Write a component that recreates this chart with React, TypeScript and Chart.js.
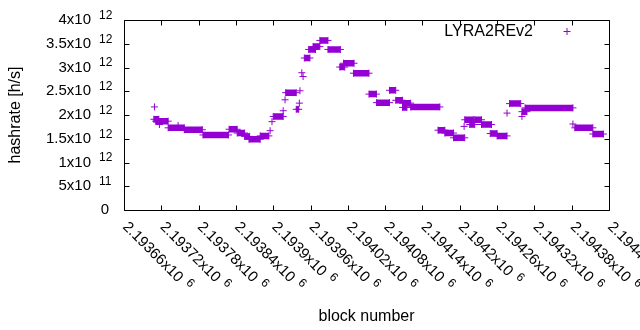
import React, { useEffect, useRef } from "react";
import { Chart, registerables } from "chart.js";

Chart.register(...registerables);

// ---- data (block ranges with a constant network hashrate) ----
const segmentStartBlocks = [
  2193709, 2193708, 2193711, 2193717, 2193731, 2193747, 2193757, 2193787, 2193829, 2193842,
  2193854, 2193861, 2193879, 2193895, 2193898, 2193900, 2193916, 2193919, 2193920, 2193937,
  2193942, 2193943, 2193946, 2193948, 2193950, 2193957, 2193964, 2193975, 2193988, 2194007,
  2194013, 2194029, 2194054, 2194066, 2194087, 2194097, 2194108, 2194108, 2194121, 2194165,
  2194176, 2194190, 2194207, 2194208, 2194216, 2194224, 2194235, 2194249, 2194260, 2194276,
  2194280, 2194300, 2194300, 2194305, 2194382, 2194385, 2194414,
];
const segmentEndBlocks = [
  2193709, 2193716, 2193731, 2193717, 2193757, 2193747, 2193786, 2193828, 2193842, 2193854,
  2193862, 2193879, 2193893, 2193895, 2193898, 2193916, 2193916, 2193919, 2193937, 2193941,
  2193942, 2193943, 2193946, 2193948, 2193959, 2193968, 2193975, 2193988, 2194008, 2194015,
  2194030, 2194054, 2194066, 2194087, 2194097, 2194108, 2194121, 2194115, 2194168, 2194176,
  2194190, 2194208, 2194207, 2194222, 2194224, 2194235, 2194251, 2194260, 2194276, 2194276,
  2194298, 2194300, 2194308, 2194382, 2194382, 2194414, 2194431,
];
const segmentHashrates = [
  2.17e12, 1.91e12, 1.87e12, 1.8e12, 1.73e12, 1.78e12, 1.69e12, 1.58e12, 1.7e12, 1.62e12,
  1.55e12, 1.49e12, 1.56e12, 1.67e12, 1.86e12, 1.97e12, 2.09e12, 2.32e12, 2.47e12, 2.12e12,
  2.25e12, 2.51e12, 2.89e12, 2.81e12, 3.2e12, 3.38e12, 3.44e12, 3.57e12, 3.38e12, 3.01e12,
  3.09e12, 2.88e12, 2.44e12, 2.26e12, 2.52e12, 2.31e12, 2.25e12, 2.16e12, 2.17e12, 1.68e12,
  1.62e12, 1.52e12, 1.76e12, 1.9e12, 1.8e12, 1.9e12, 1.8e12, 1.61e12, 1.56e12, 2.04e12,
  2.24e12, 1.97e12, 2.07e12, 2.15e12, 1.81e12, 1.73e12, 1.6e12,
];

const seriesName = "LYRA2REv2";

const xTickValues = [
  2193660, 2193720, 2193780, 2193840, 2193900, 2193960, 2194020,
  2194080, 2194140, 2194200, 2194260, 2194320, 2194380, 2194440,
];
const xTickMantissas = [
  "2.19366", "2.19372", "2.19378", "2.19384", "2.1939", "2.19396", "2.19402",
  "2.19408", "2.19414", "2.1942", "2.19426", "2.19432", "2.19438", "2.19444",
];
const xTickExponents = ["6", "6", "6", "6", "6", "6", "6", "6", "6", "6", "6", "6", "6", "6"];

const yTickValues = [0, 5e11, 1e12, 1.5e12, 2e12, 2.5e12, 3e12, 3.5e12, 4e12];
const yTickMantissas = ["0", "5", "1", "1.5", "2", "2.5", "3", "3.5", "4"];
const yTickExponents = ["", "11", "12", "12", "12", "12", "12", "12", "12"];

const xAxisTitle = "block number";
const yAxisTitle = "hashrate [h/s]";

const X_MIN = 2193660;
const X_MAX = 2194440;
const Y_MIN = 0;
const Y_MAX = 4e12;

const PURPLE = "#9400d3";
const FONT = "'Liberation Sans', Arial, sans-serif";
const FS = 16;
const TICK_FS = 15;
const SUP = 12;

const gnuplotFrame = {
  id: "gnuplotFrame",
  afterDraw(chart: any) {
    const { ctx, chartArea: a, scales } = chart;
    const xs = scales.x;
    const ys = scales.y;
    const L = Math.round(a.left) + 0.5;
    const R = Math.round(a.right) + 0.5;
    const T = Math.round(a.top) + 0.5;
    const B = Math.round(a.bottom) + 0.5;
    const TL = 5;
    ctx.save();
    ctx.strokeStyle = "#000";
    ctx.lineWidth = 1;
    ctx.beginPath();
    ctx.rect(L, T, R - L, B - T);
    yTickValues.forEach((v) => {
      const py = Math.round(ys.getPixelForValue(v)) + 0.5;
      ctx.moveTo(L, py);
      ctx.lineTo(L + TL, py);
      ctx.moveTo(R, py);
      ctx.lineTo(R - TL, py);
    });
    xTickValues.forEach((v) => {
      const px = Math.round(xs.getPixelForValue(v)) + 0.5;
      ctx.moveTo(px, B);
      ctx.lineTo(px, B - TL);
      ctx.moveTo(px, T);
      ctx.lineTo(px, T + TL);
    });
    ctx.stroke();

    ctx.fillStyle = "#000";
    // y tick labels with superscript exponent
    yTickValues.forEach((v, i) => {
      const py = ys.getPixelForValue(v);
      ctx.textBaseline = "middle";
      if (!yTickExponents[i]) {
        ctx.font = `${TICK_FS}px ${FONT}`;
        ctx.textAlign = "right";
        ctx.fillText(yTickMantissas[i], 109, py);
      } else {
        ctx.font = `${TICK_FS}px ${FONT}`;
        ctx.textAlign = "right";
        ctx.fillText(yTickMantissas[i] + "x10", 91, py);
        ctx.font = `${SUP}px ${FONT}`;
        ctx.textAlign = "left";
        ctx.fillText(yTickExponents[i], 99, py - 4.5);
      }
    });
    // x tick labels rotated
    xTickValues.forEach((v, i) => {
      const px = xs.getPixelForValue(v);
      ctx.save();
      ctx.translate(px + 1, B + 14);
      ctx.rotate(Math.PI / 4);
      ctx.textBaseline = "middle";
      ctx.textAlign = "left";
      ctx.font = `${TICK_FS}px ${FONT}`;
      const main = xTickMantissas[i] + "x10";
      ctx.fillText(main, 0, 0);
      const w = ctx.measureText(main).width;
      ctx.font = `${SUP}px ${FONT}`;
      ctx.fillText(xTickExponents[i], w + 6, -4.5);
      ctx.restore();
    });
    // legend
    ctx.font = `${FS}px ${FONT}`;
    ctx.textAlign = "right";
    ctx.textBaseline = "middle";
    ctx.fillText(seriesName, 533, 32);
    ctx.strokeStyle = PURPLE;
    ctx.beginPath();
    ctx.moveTo(563.5, 31.5);
    ctx.lineTo(570.5, 31.5);
    ctx.moveTo(567, 28);
    ctx.lineTo(567, 35);
    ctx.stroke();
    ctx.restore();
  },
};

export default function App() {
  const ref = useRef<HTMLCanvasElement | null>(null);
  useEffect(() => {
    if (!ref.current) return;
    const bandData: any[] = [];
    const pointData: any[] = [];
    for (let i = 0; i < segmentStartBlocks.length; i++) {
      const s = segmentStartBlocks[i];
      const e = segmentEndBlocks[i];
      const v = segmentHashrates[i];
      if (e > s) {
        bandData.push({ x: s, y: v }, { x: e, y: v }, { x: e, y: null });
      }
      pointData.push({ x: s, y: v });
      if (e !== s) pointData.push({ x: e, y: v });
    }
    const chart = new Chart(ref.current, {
      type: "scatter",
      data: {
        datasets: [
          {
            label: seriesName + " band",
            data: bandData,
            showLine: true,
            spanGaps: false,
            borderColor: PURPLE,
            backgroundColor: PURPLE,
            borderWidth: 6.5,
            pointRadius: 0,
            pointHoverRadius: 0,
          },
          {
            label: seriesName,
            data: pointData,
            showLine: false,
            pointStyle: "cross",
            pointRadius: 3.5,
            pointBorderWidth: 1,
            pointBorderColor: PURPLE,
            borderColor: PURPLE,
            backgroundColor: PURPLE,
          },
        ],
      },
      options: {
        responsive: false,
        animation: false,
        devicePixelRatio: 1,
        events: [],
        layout: { padding: { top: 20, right: 31, left: 0, bottom: 0 } },
        plugins: { legend: { display: false }, tooltip: { enabled: false } },
        scales: {
          x: {
            type: "linear",
            min: X_MIN,
            max: X_MAX,
            ticks: { display: false },
            grid: { display: false },
            border: { display: false },
            title: {
              display: true,
              text: xAxisTitle,
              color: "#000",
              font: { family: FONT, size: FS },
              padding: { top: 0, bottom: 4 },
            },
            afterFit: (s: any) => {
              s.height = 120;
            },
          },
          y: {
            type: "linear",
            min: Y_MIN,
            max: Y_MAX,
            ticks: { display: false },
            grid: { display: false },
            border: { display: false },
            title: {
              display: true,
              text: yAxisTitle,
              color: "#000",
              font: { family: FONT, size: FS },
              padding: { top: 6, bottom: 0 },
            },
            afterFit: (s: any) => {
              s.width = 124;
            },
          },
        },
      },
      plugins: [gnuplotFrame],
    });
    return () => chart.destroy();
  }, []);
  return (
    <div style={{ position: "absolute", left: 0, top: 0, width: 640, height: 330, background: "#fff" }}>
      <canvas ref={ref} width={640} height={330} style={{ display: "block", width: 640, height: 330 }} />
    </div>
  );
}
